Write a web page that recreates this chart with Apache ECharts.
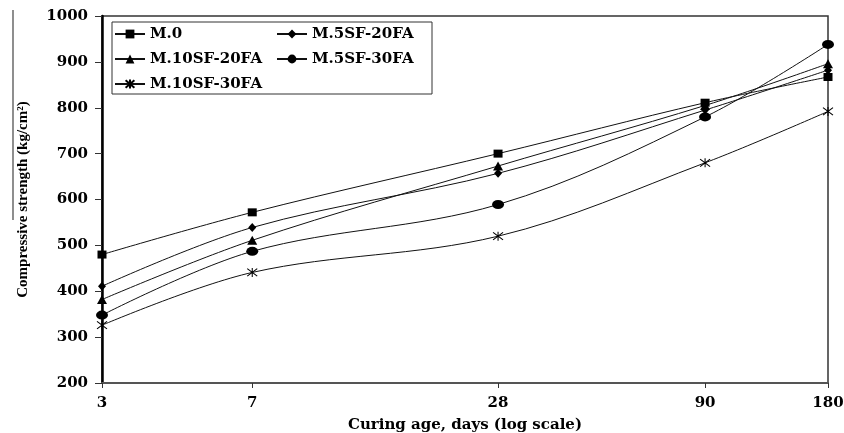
<!DOCTYPE html>
<html>
<head>
<meta charset="utf-8">
<title>Compressive strength vs curing age</title>
<script src="https://cdn.jsdelivr.net/npm/echarts@6/dist/echarts.min.js"></script>
<style>
  html, body { margin: 0; padding: 0; background: #fff; }
  #chart { width: 844px; height: 433px; }
</style>
</head>
<body>
<div id="chart"></div>
<script>
// curing age in days (log axis)
const days = [3, 7, 28, 90, 180]
const dayTicks = [3, 7, 28, 90, 180]

// compressive strength, kg/cm2
const m0 = [480, 572, 700, 811, 867]
const m5sf20fa = [411, 539, 657, 795, 882]
const m10sf20fa = [382, 511, 673, 805, 896]
const m5sf30fa = [348, 487, 589, 780, 938]
const m10sf30fa = [326, 441, 520, 680, 792]

const starPath = 'path://M0,0 L10,10 M10,0 L0,10 M5,-1 L5,11'
const serif = 'DejaVu Serif'

const chart = echarts.init(document.getElementById('chart'))

const makeSeries = (name, values, symbol, size) => ({
  name,
  type: 'line',
  smooth: 0.35,
  data: values.map((v, i) => [days[i], v]),
  symbol,
  symbolSize: size,
  lineStyle: { color: '#111', width: 1 },
  itemStyle: { color: '#000', borderColor: '#000', borderWidth: symbol === starPath ? 1 : 0 },
  emphasis: { disabled: true }
})

const seriesData = [
  makeSeries('M.0', m0, 'rect', [9, 8]),
  makeSeries('M.5SF-20FA', m5sf20fa, 'diamond', [8, 9]),
  makeSeries('M.10SF-20FA', m10sf20fa, 'triangle', [10, 9]),
  makeSeries('M.5SF-30FA', m5sf30fa, 'circle', [12, 9]),
  makeSeries('M.10SF-30FA', m10sf30fa, starPath, [10, 9])
]

const legendBase = {
  orient: 'vertical',
  top: 26,
  padding: 0,
  itemGap: 9,
  itemWidth: 30,
  itemHeight: 11,
  textStyle: { fontFamily: serif, fontSize: 15, fontWeight: 'bold', color: '#000', lineHeight: 16 }
}

const option = {
  animation: false,
  grid: {
    left: 102,
    right: 16,
    top: 16,
    bottom: 50,
    outerBoundsMode: 'none',
    containLabel: false,
    show: true,
    borderColor: '#333',
    borderWidth: 1.5
  },
  legend: [
    Object.assign({ left: 114, data: ['M.0', 'M.10SF-20FA', 'M.10SF-30FA'] }, legendBase),
    Object.assign({ left: 276, data: ['M.5SF-20FA', 'M.5SF-30FA'] }, legendBase)
  ],
  graphic: [
    {
      type: 'rect',
      shape: { x: 112, y: 22, width: 320, height: 72 },
      style: { fill: 'none', stroke: '#333', lineWidth: 1 },
      z: 100
    },
    {
      type: 'line',
      shape: { x1: 13, y1: 10, x2: 13, y2: 220 },
      style: { stroke: '#444', lineWidth: 1.2 }
    }
  ],
  xAxis: {
    type: 'log',
    logBase: 10,
    min: 3,
    max: 180,
    name: 'Curing age, days (log scale)',
    nameLocation: 'middle',
    nameGap: 35,
    nameTextStyle: { fontFamily: serif, fontSize: 15, fontWeight: 'bold', color: '#000' },
    axisLine: { lineStyle: { color: '#555', width: 2 } },
    axisTick: { customValues: dayTicks, length: 5, lineStyle: { color: '#333' } },
    minorTick: { show: false },
    axisLabel: {
      customValues: dayTicks,
      margin: 13,
      fontFamily: serif,
      fontSize: 15,
      fontWeight: 'bold',
      color: '#000'
    },
    splitLine: { show: false }
  },
  yAxis: {
    type: 'value',
    min: 200,
    max: 1000,
    interval: 100,
    name: 'Compressive strength (kg/cm²)',
    nameLocation: 'middle',
    nameGap: 71,
    nameRotate: 90,
    nameTextStyle: { fontFamily: 'Liberation Serif', fontSize: 15, fontWeight: 'bold', color: '#000' },
    axisLine: { show: true, lineStyle: { color: '#000', width: 2.5 } },
    axisTick: { show: true, length: 7, lineStyle: { color: '#333' } },
    axisLabel: {
      margin: 14,
      fontFamily: serif,
      fontSize: 15,
      fontWeight: 'bold',
      color: '#000',
      formatter: v => String(v)
    },
    splitLine: { show: false }
  },
  series: seriesData
}

chart.setOption(option)
</script>
</body>
</html>
